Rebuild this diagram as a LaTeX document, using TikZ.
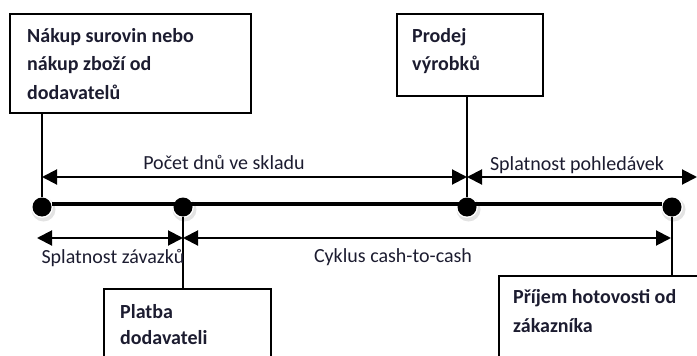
\documentclass[tikz,border=0pt]{standalone}
\usepackage{fontspec}
\setmainfont{Carlito}
\usetikzlibrary{arrows.meta}
\definecolor{ink}{RGB}{28,28,48}
\begin{document}
\begin{tikzpicture}[x=1pt,y=-1pt,
  box/.style={draw=black, line width=1.8pt, fill=white, inner sep=0pt, anchor=north west},
  boxtext/.style={font=\fontsize{20}{28.5}\selectfont\bfseries, text=ink, align=left, anchor=north west, inner sep=0pt},
  lbl/.style={font=\fontsize{20}{24}\selectfont, text=ink, inner sep=0pt, anchor=base},
  dot/.style={circle, fill=black, minimum size=19pt, inner sep=0pt},
  span/.style={line width=2pt, {Triangle[length=15pt,width=15pt]}-{Triangle[length=15pt,width=15pt]}},
  link/.style={line width=1.6pt},
  spine/.style={line width=4.5pt}]
\useasboundingbox (0,0) rectangle (697,356);

% event boxes
\node[box, minimum width=241pt, minimum height=99pt] (b1) at (9,13) {};
\node[box, minimum width=146pt, minimum height=82pt] (b2) at (396,13) {};
\node[box, minimum width=167pt, minimum height=90pt] (b3) at (103,288) {};
\node[box, minimum width=220pt, minimum height=100pt] (b4) at (498,275) {};

\node[boxtext] (t1) at (27,28) {Nákup surovin nebo\\nákup zboží od\\dodavatelů};
\node[boxtext] (t2) at (412,28) {Prodej\\výrobků};
\node[boxtext, font=\fontsize{20}{26}\selectfont\bfseries] (t3) at (120,304) {Platba\\dodavateli};
\node[boxtext, font=\fontsize{20}{29}\selectfont\bfseries] (t4) at (513,289) {Příjem hotovosti od\\zákazníka};

% time line with events: soft shadow, white rim, black dot
\coordinate (p1) at (42,207);
\coordinate (p2) at (183,207);
\coordinate (p3) at (467,207);
\coordinate (p4) at (672,207);
\foreach \p in {p1,p2,p3,p4} {
  \fill[gray!22] ([shift={(1.5,2.5)}]\p) circle (12pt);
  \fill[white] (\p) circle (11pt);
}
\coordinate (s1) at (52,204);
\coordinate (s4) at (662,204);
\draw[spine] (s1) -- (s4);
\node[dot] (d1) at (p1) {};
\node[dot] (d2) at (p2) {};
\node[dot] (d3) at (p3) {};
\node[dot] (d4) at (p4) {};

% links from boxes to events
\draw[link] (b1.south -| d1) -- (d1);
\draw[link] (b2.south -| d3) -- (d3);
\draw[link] (d2) -- (d2 |- b3.north);
\draw[link] (d4) -- (d4 |- b4.north);

% period spans
\coordinate (ytop) at (0,177);
\coordinate (ybot) at (0,238);
\coordinate (uend) at (697,177);
\coordinate (lstart) at (37,238);
\draw[span] (d1 |- ytop) -- (d3 |- ytop);
\draw[span] (d3 |- ytop) -- (uend);
\draw[span] (lstart) -- (d2 |- ybot);
\draw[span] (d2 |- ybot) -- ([xshift=-1pt]d4 |- ybot);

\node[lbl] (l1) at (224,169) {Počet dnů ve skladu};
\node[lbl] (l2) at (577,170) {Splatnost pohledávek};
\node[lbl] (l3) at (113,263) {Splatnost závazků};
\node[lbl] (l4) at (393,262) {Cyklus cash-to-cash};
\end{tikzpicture}
\end{document}
